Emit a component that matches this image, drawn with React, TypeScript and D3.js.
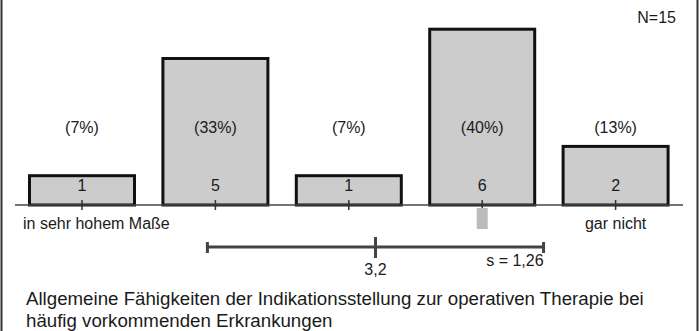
import React from "react";
import * as d3 from "d3";

const categories = ["1", "2", "3", "4", "5"];
const counts = [1, 5, 1, 6, 2];
const percents = ["(7%)", "(33%)", "(7%)", "(40%)", "(13%)"];
const leftLabel = "in sehr hohem Maße";
const rightLabel = "gar nicht";
const N = 15;
const meanValue = 3.2;
const sdValue = 1.26;
const medianValue = 4;
const meanLabel = "3,2";
const sdLabel = "s = 1,26";
const titleLines = [
  "Allgemeine Fähigkeiten der Indikationsstellung zur operativen Therapie bei",
  "häufig vorkommenden Erkrankungen",
];

const W = 699;
const H = 331;
const FONT = "'Liberation Sans', Arial, sans-serif";

export default function App() {
  const x = d3.scaleLinear().domain([1, 5]).range([82, 615.6]);
  const xc = (c: string) => x(+c);
  const y = d3.scaleLinear().domain([0, 6]).range([205, 29.2]);
  const barW = 105;
  const textColor = "#1a1a1a";
  const fs = 16;

  return (
    <svg
      width={W}
      height={H}
      style={{ position: "absolute", left: 0, top: 0, background: "#fff" }}
      fontFamily={FONT}
    >
      <line x1={1.5} x2={1.5} y1={0} y2={H} stroke="#333" strokeWidth={2} />
      <line x1={697.5} x2={697.5} y1={0} y2={H} stroke="#333" strokeWidth={2} />

      <text x={676} y={23} textAnchor="end" fontSize={fs} fill={textColor}>
        N={N}
      </text>

      {categories.map((c, i) => (
        <g key={c}>
          <rect
            x={xc(c) - barW / 2}
            y={y(counts[i])}
            width={barW}
            height={y(0) - y(counts[i])}
            fill="#cccccc"
            stroke="#111"
            strokeWidth={3}
          />
        </g>
      ))}

      <line x1={15} x2={683} y1={205} y2={205} stroke="#444" strokeWidth={1.5} />

      {categories.map((c, i) => (
        <g key={"t" + c}>
          <line x1={xc(c)} x2={xc(c)} y1={200} y2={210} stroke="#333" strokeWidth={1.5} />
          <text x={xc(c)} y={191} textAnchor="middle" fontSize={fs} fill={textColor}>
            {counts[i]}
          </text>
          <text x={xc(c)} y={133} textAnchor="middle" fontSize={fs} fill={textColor}>
            {percents[i]}
          </text>
        </g>
      ))}

      <text x={23} y={229} fontSize={fs} fill={textColor}>
        {leftLabel}
      </text>
      <text x={x(5)} y={229} textAnchor="middle" fontSize={fs} fill={textColor}>
        {rightLabel}
      </text>

      <rect x={x(medianValue) - 5.5} y={208} width={11} height={21} fill="#bbbbbb" />

      <line
        x1={x(meanValue - sdValue)}
        x2={x(meanValue + sdValue)}
        y1={247}
        y2={247}
        stroke="#444"
        strokeWidth={3}
      />
      <line x1={x(meanValue - sdValue)} x2={x(meanValue - sdValue)} y1={242} y2={253} stroke="#444" strokeWidth={3} />
      <line x1={x(meanValue + sdValue)} x2={x(meanValue + sdValue)} y1={242} y2={253} stroke="#444" strokeWidth={3} />
      <line x1={x(meanValue)} x2={x(meanValue)} y1={237} y2={258} stroke="#444" strokeWidth={3} />
      <text x={x(meanValue)} y={275} textAnchor="middle" fontSize={fs} fill={textColor}>
        {meanLabel}
      </text>
      <text x={x(meanValue + sdValue)} y={266} textAnchor="end" fontSize={fs} fill={textColor}>
        {sdLabel}
      </text>

      {titleLines.map((t, i) => (
        <text key={i} x={26} y={305 + i * 22} fontSize={18.7} fill={textColor}>
          {t}
        </text>
      ))}
    </svg>
  );
}
